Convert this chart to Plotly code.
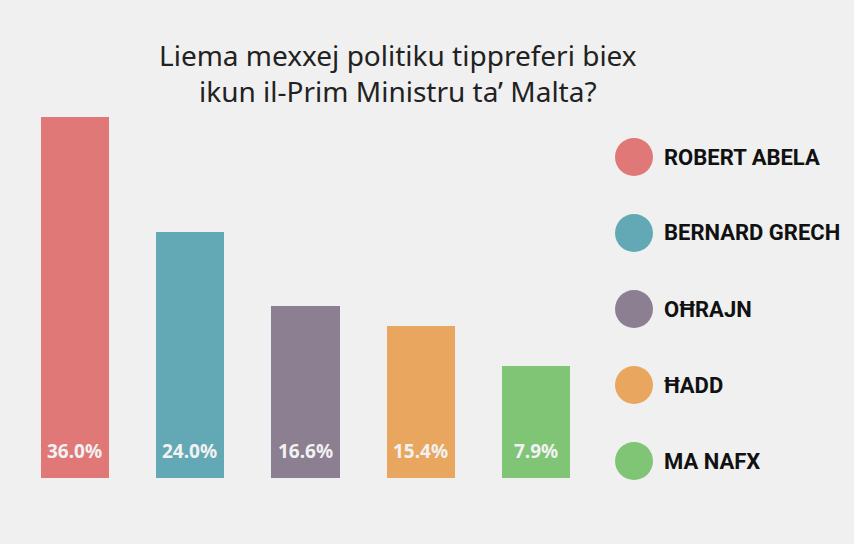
import plotly.graph_objects as go

categories = ["ROBERT ABELA", "BERNARD GRECH", "OĦRAJN", "ĦADD", "MA NAFX"]
labels = ["36.0%", "24.0%", "16.6%", "15.4%", "7.9%"]
# bar heights as drawn in the picture (not proportional to the labels)
heights = [36.0, 24.5, 17.15, 15.15, 11.2]
colors = ["#e07878", "#63a9b5", "#8c7f91", "#e9a65e", "#80c476"]

W, H = 854, 544
BG = "#f0f0f0"

fig = go.Figure()
fig.add_trace(go.Bar(
    x=list(range(len(categories))), y=heights,
    marker=dict(color=colors, line=dict(width=0)),
    width=0.59, hoverinfo="skip", showlegend=False,
))

annotations = []
for i, lab in enumerate(labels):
    annotations.append(dict(
        x=i, y=0, xref="x", yref="y", text="<b>%s</b>" % lab,
        showarrow=False, yanchor="bottom", yshift=12,
        font=dict(family="Noto Sans", size=19, color="#f2f2f2"),
    ))

annotations.append(dict(
    x=398 / W, y=1 - 34 / H, xref="paper", yref="paper",
    text="Liema mexxej politiku tippreferi biex<br>ikun il-Prim Ministru ta’ Malta?",
    showarrow=False, xanchor="center", yanchor="top", align="center",
    font=dict(family="Noto Sans", size=28, color="#222222"),
))

shapes = []
cx, r = 634, 19
for i, (name, col) in enumerate(zip(categories, colors)):
    cy = 157 + i * 76
    shapes.append(dict(
        type="circle", xref="paper", yref="paper",
        x0=(cx - r) / W, x1=(cx + r) / W,
        y0=1 - (cy + r) / H, y1=1 - (cy - r) / H,
        fillcolor=col, line=dict(width=0),
    ))
    annotations.append(dict(
        x=662 / W, y=1 - cy / H, xref="paper", yref="paper",
        text="<b>%s</b>" % name, showarrow=False,
        xanchor="left", yanchor="middle",
        font=dict(family="Roboto", size=22, color="#111111"),
    ))

fig.update_layout(
    width=W, height=H, margin=dict(l=0, r=0, t=0, b=0),
    paper_bgcolor=BG, plot_bgcolor=BG,
    xaxis=dict(domain=[16.8 / W, 593.8 / W], range=[-0.5, 4.5],
               showticklabels=False, showgrid=False, zeroline=False, visible=False),
    yaxis=dict(domain=[(H - 478) / H, (H - 77) / H], range=[0, 40],
               showticklabels=False, showgrid=False, zeroline=False, visible=False),
    annotations=annotations, shapes=shapes,
    bargap=0,
)

fig.write_html("out.html")
